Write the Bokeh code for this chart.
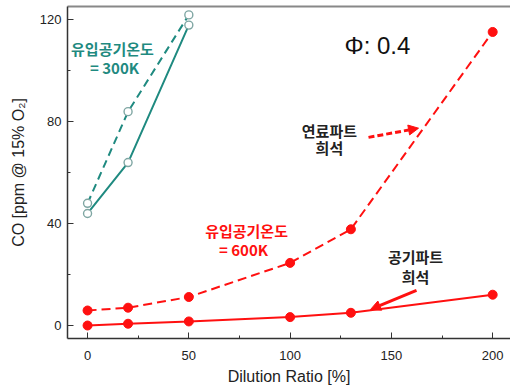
from bokeh.plotting import figure
from bokeh.models import (LinearAxis, Arrow, NormalHead, Range1d, FixedTicker)
from bokeh.core.properties import value
from bokeh.embed import file_html
from bokeh.resources import INLINE

# ---- data ----
x300 = [0, 20, 50]
co300_air = [44, 64, 118]      # solid (air part dilution)
co300_fuel = [48, 84, 122]     # dashed (fuel part dilution)

x600 = [0, 20, 50, 100, 130, 200]
co600_air = [0, 0.7, 1.6, 3.3, 5.0, 12.1]
co600_fuel = [5.9, 7.0, 11.2, 24.6, 37.8, 115.3]

x_ticks = [0, 50, 100, 150, 200]
x_minor = [25, 75, 125, 175]
y_ticks = [0, 40, 80, 120]
y_minor = [20, 60, 100]

# annotation anchors (data coordinates)
teal_label_x = [12.3, 13.3]
teal_label_y = [108.7, 101.2]
teal_label_t = ["유입공기온도", "= 300K"]

red_label_x = [78.5, 77.0]
red_label_y = [37.2, 30.0]
red_label_t = ["유입공기온도", "= 600K"]

fuel_note_x = [119.4, 119.4]
fuel_note_y = [76.7, 70.0]
fuel_note_t = ["연료파트", "희석"]

air_note_x = [161.9, 161.9]
air_note_y = [27.3, 19.4]
air_note_t = ["공기파트", "희석"]

phi_x, phi_y, phi_t = [143.1], [109.9], ["Φ: 0.4"]

fuel_arrow = (138.7, 73.9, 163.4, 77.5)
air_arrow = (162.4, 13.8, 139.7, 6.3)

TEAL = "#1f8a80"
TEAL_MK = "#7fa6a3"
RED = "#ff1010"
FONT = "Liberation Sans"
KFONT = "Noto Sans CJK KR"

p = figure(width=510, height=387, output_backend="svg", toolbar_location=None,
           x_range=Range1d(-9.9, 208.8), y_range=Range1d(-5.1, 125.3),
           min_border_left=67, min_border_right=0, min_border_top=6,
           min_border_bottom=0)
p.grid.visible = False
p.outline_line_color = None
p.background_fill_color = "white"
p.border_fill_color = "white"

p.xaxis.ticker = FixedTicker(ticks=x_ticks, minor_ticks=x_minor)
p.yaxis.ticker = FixedTicker(ticks=y_ticks, minor_ticks=y_minor)
for ax in (p.xaxis[0], p.yaxis[0]):
    ax.major_tick_in = 6
    ax.major_tick_out = 0
    ax.minor_tick_in = 3
    ax.minor_tick_out = 0
    ax.axis_line_color = "#333333"
    ax.axis_line_width = 1.5
    ax.major_tick_line_color = "#333333"
    ax.minor_tick_line_color = "#333333"
    ax.major_label_text_font = FONT
    ax.major_label_text_font_size = "13px"
    ax.major_label_text_color = "#222222"
    ax.axis_label_text_font = FONT
    ax.axis_label_text_font_size = "16px"
    ax.axis_label_text_font_style = "normal"
    ax.axis_label_text_color = "#222222"
p.xaxis.axis_label = "Dilution Ratio [%]"
p.yaxis.axis_label = "CO [ppm @ 15% O₂]"
p.xaxis.major_label_standoff = 12
p.xaxis.axis_label_standoff = 5
p.yaxis.major_label_standoff = 6
p.yaxis.axis_label_standoff = 10

top = LinearAxis(major_tick_in=0, major_tick_out=0, minor_tick_in=0,
                 minor_tick_out=0, major_label_text_font_size="0px",
                 axis_line_color="#888888", axis_line_width=2,
                 major_label_standoff=0, ticker=FixedTicker(ticks=[]))
p.add_layout(top, "above")

# 300 K
p.line(x300, co300_air, line_color=TEAL, line_width=2)
p.line(x300, co300_fuel, line_color=TEAL, line_width=2, line_dash="8 5")
p.scatter(x300, co300_air, size=8, fill_color="white", line_color=TEAL_MK, line_width=1.4)
p.scatter(x300, co300_fuel, size=8, fill_color="white", line_color=TEAL_MK, line_width=1.4)

# 600 K
p.line(x600, co600_air, line_color=RED, line_width=2)
p.line(x600, co600_fuel, line_color=RED, line_width=2, line_dash="9 5")
p.scatter(x600, co600_air, size=9, fill_color=RED, line_color=RED)
p.scatter(x600, co600_fuel, size=9, fill_color=RED, line_color=RED)

# texts
p.text(teal_label_x, teal_label_y, text=teal_label_t, text_color=TEAL,
       text_font=value(KFONT), text_font_style="bold", text_font_size="15px",
       text_align="center", text_baseline="middle")
p.text(red_label_x, red_label_y, text=red_label_t, text_color=RED,
       text_font=value(KFONT), text_font_style="bold", text_font_size="15px",
       text_align="center", text_baseline="middle")
p.text(fuel_note_x, fuel_note_y, text=fuel_note_t, text_color="#222222",
       text_font=value(KFONT), text_font_style="bold", text_font_size="15px",
       text_align="center", text_baseline="middle")
p.text(air_note_x, air_note_y, text=air_note_t, text_color="#222222",
       text_font=value(KFONT), text_font_style="bold", text_font_size="15px",
       text_align="center", text_baseline="middle")
p.text(phi_x, phi_y, text=phi_t, text_color="#111111",
       text_font=value(FONT), text_font_size="24px",
       text_align="center", text_baseline="middle")

p.add_layout(Arrow(end=NormalHead(size=10, fill_color=RED, line_color=RED),
                   x_start=fuel_arrow[0], y_start=fuel_arrow[1],
                   x_end=fuel_arrow[2], y_end=fuel_arrow[3],
                   line_color=RED, line_width=3, line_dash="6 3"))
p.add_layout(Arrow(end=NormalHead(size=10, fill_color=RED, line_color=RED),
                   x_start=air_arrow[0], y_start=air_arrow[1],
                   x_end=air_arrow[2], y_end=air_arrow[3],
                   line_color=RED, line_width=3))

open("out.html", "w").write(file_html(p, INLINE))
